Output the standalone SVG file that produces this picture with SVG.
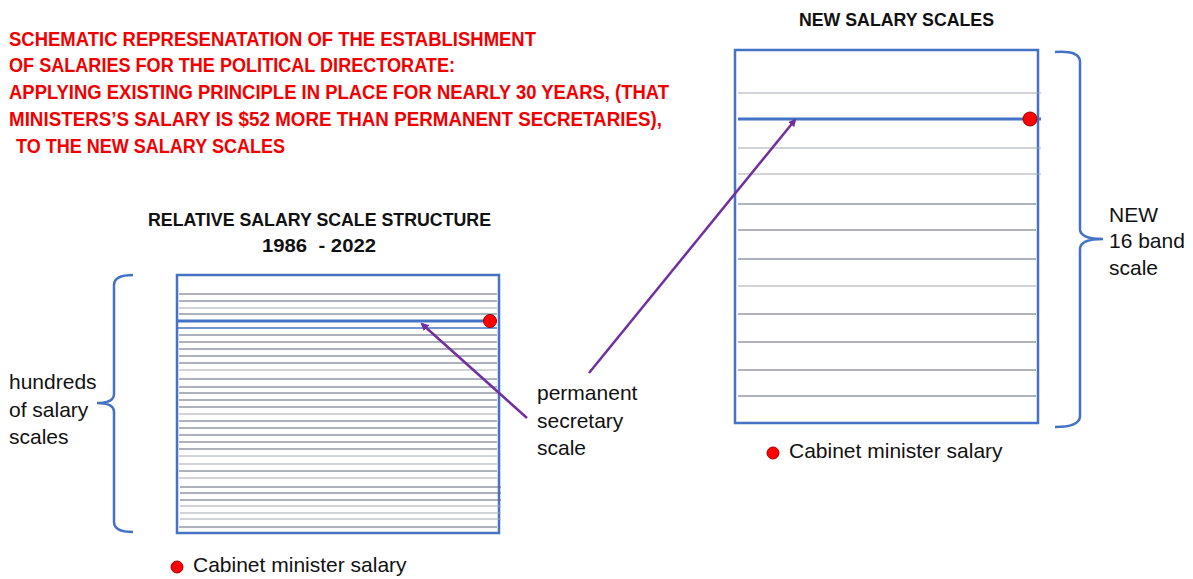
<svg xmlns="http://www.w3.org/2000/svg" width="1193" height="579" viewBox="0 0 1193 579">
<style>
.title{font-family:"Liberation Sans",Arial,sans-serif;font-weight:bold;font-size:21px;fill:#f00000}
.head{font-family:"Liberation Sans",Arial,sans-serif;font-weight:bold;font-size:19px;fill:#111}
.lbl{font-family:"Liberation Sans",Arial,sans-serif;font-size:21px;fill:#111}
.box{fill:#fff;stroke:#4472c4;stroke-width:2.5}
.band{stroke:#5c6579;stroke-width:1}
.bandl{stroke:#a3a8b2;stroke-width:1}
.ps{stroke:#4472c4;stroke-width:3}
.dot{fill:#ff0000;stroke:#a00000;stroke-width:1}
.brace{fill:none;stroke:#4472c4;stroke-width:2.5}
.arrow{stroke:#7030a0;stroke-width:2.5;fill:none;marker-end:url(#ah)}
</style>
<defs>
<marker id="ah" markerWidth="8" markerHeight="8" refX="6" refY="4" orient="auto" markerUnits="userSpaceOnUse" viewBox="0 0 8 8">
<path d="M0,0 L8,4 L0,8 z" fill="#7030a0"/>
</marker>
</defs>
<rect width="1193" height="579" fill="#fff"/>
<g id="title">
<text class="title" x="9" y="46" textLength="527" lengthAdjust="spacingAndGlyphs">SCHEMATIC REPRESENATATION OF THE ESTABLISHMENT</text>
<text class="title" x="9" y="72" textLength="446" lengthAdjust="spacingAndGlyphs">OF SALARIES FOR THE POLITICAL DIRECTORATE:</text>
<text class="title" x="9" y="99" textLength="660" lengthAdjust="spacingAndGlyphs">APPLYING EXISTING PRINCIPLE IN PLACE FOR NEARLY 30 YEARS, (THAT</text>
<text class="title" x="9" y="126" textLength="653" lengthAdjust="spacingAndGlyphs">MINISTERS’S SALARY IS $52 MORE THAN PERMANENT SECRETARIES),</text>
<text class="title" x="16" y="153" textLength="269" lengthAdjust="spacingAndGlyphs">TO THE NEW SALARY SCALES</text>
</g>
<g id="left-scale">
<text class="head" x="148" y="226" textLength="343" lengthAdjust="spacingAndGlyphs">RELATIVE SALARY SCALE STRUCTURE</text>
<text class="head" x="262" y="252" textLength="114" lengthAdjust="spacingAndGlyphs" xml:space="preserve">1986  - 2022</text>
<rect class="box" x="177" y="275" width="322" height="258"/>
<g>
<line class="band" x1="179" x2="497" y1="294" y2="294"/>
<line class="band" x1="179" x2="497" y1="301" y2="301"/>
<line class="bandl" x1="179" x2="497" y1="308" y2="308"/>
<line class="band" x1="179" x2="497" y1="314" y2="314"/>
<line class="ps" x1="178" x2="490" y1="321" y2="321"/>
<line class="ps" x1="178" x2="497" y1="328" y2="328" style="stroke-width:1.5"/>
<line class="band" x1="179" x2="497" y1="335" y2="335"/>
<line class="band" x1="179" x2="497" y1="342" y2="342"/>
<line class="band" x1="179" x2="497" y1="349" y2="349"/>
<line class="band" x1="179" x2="497" y1="356" y2="356"/>
<line class="band" x1="179" x2="497" y1="363" y2="363"/>
<line class="bandl" x1="179" x2="497" y1="370" y2="370"/>
<line class="band" x1="179" x2="497" y1="379" y2="379"/>
<line class="band" x1="179" x2="497" y1="387" y2="387"/>
<line class="band" x1="179" x2="497" y1="393" y2="393"/>
<line class="band" x1="179" x2="497" y1="400" y2="400"/>
<line class="band" x1="179" x2="497" y1="407" y2="407"/>
<line class="bandl" x1="179" x2="497" y1="414" y2="414"/>
<line class="band" x1="179" x2="497" y1="421" y2="421"/>
<line class="band" x1="179" x2="497" y1="428" y2="428"/>
<line class="band" x1="179" x2="497" y1="435" y2="435"/>
<line class="band" x1="179" x2="497" y1="442" y2="442"/>
<line class="band" x1="179" x2="497" y1="449" y2="449"/>
<line class="bandl" x1="179" x2="497" y1="456" y2="456"/>
<line class="bandl" x1="179" x2="497" y1="464" y2="464"/>
<line class="band" x1="179" x2="497" y1="471" y2="471"/>
<line class="bandl" x1="179" x2="497" y1="478" y2="478"/>
<line class="band" x1="180" x2="501" y1="487" y2="487"/>
<line class="band" x1="180" x2="501" y1="493" y2="493"/>
<line class="band" x1="180" x2="501" y1="500" y2="500"/>
<line class="bandl" x1="180" x2="501" y1="506" y2="506"/>
<line class="bandl" x1="180" x2="501" y1="513" y2="513"/>
<line class="bandl" x1="180" x2="501" y1="519" y2="519"/>
<line class="band" x1="179" x2="497" y1="527" y2="527"/>
</g>
<circle class="dot" cx="490" cy="321" r="6.5"/>
<path class="brace" d="M133,275 Q114,275 114,285 L114,394 Q114,403 97,403 Q114,403 114,412 L114,522 Q114,532 133,532"/>
<text class="lbl" x="9" y="389">hundreds</text>
<text class="lbl" x="9" y="417">of salary</text>
<text class="lbl" x="9" y="444">scales</text>
<circle class="dot" cx="177" cy="567" r="6"/>
<text class="lbl" x="193" y="572">Cabinet minister salary</text>
</g>
<g id="right-scale">
<text class="head" x="799" y="26" textLength="195" lengthAdjust="spacingAndGlyphs">NEW SALARY SCALES</text>
<rect class="box" x="735" y="50" width="303" height="373"/>
<line class="bandl" x1="738" x2="1041" y1="93" y2="93"/>
<line class="ps" x1="738" x2="1041" y1="119" y2="119"/>
<line class="bandl" x1="738" x2="1041" y1="148" y2="148"/>
<line class="bandl" x1="738" x2="1041" y1="174" y2="174"/>
<line class="band" x1="738" x2="1036" y1="204" y2="204"/>
<line class="band" x1="738" x2="1036" y1="230" y2="230"/>
<line class="band" x1="738" x2="1036" y1="259" y2="259"/>
<line class="bandl" x1="738" x2="1036" y1="286" y2="286"/>
<line class="band" x1="738" x2="1036" y1="314" y2="314"/>
<line class="band" x1="738" x2="1036" y1="342" y2="342"/>
<line class="band" x1="738" x2="1036" y1="370" y2="370"/>
<line class="band" x1="738" x2="1036" y1="396" y2="396"/>
<circle class="dot" cx="1030" cy="119" r="7"/>
<path class="brace" d="M1055,52 Q1080,50 1080,62 L1080,229 Q1080,239 1103,239 Q1080,239 1080,249 L1080,416 Q1080,427 1055,427"/>
<text class="lbl" x="1109" y="222">NEW</text>
<text class="lbl" x="1109" y="248">16 band</text>
<text class="lbl" x="1109" y="275">scale</text>
<circle class="dot" cx="773" cy="453" r="6"/>
<text class="lbl" x="789" y="458">Cabinet minister salary</text>
</g>
<g id="ps-label">
<text class="lbl" x="537" y="400">permanent</text>
<text class="lbl" x="537" y="428">secretary</text>
<text class="lbl" x="537" y="455">scale</text>
</g>
<g id="connectors">
<line class="arrow" x1="527" y1="418" x2="422" y2="324"/>
<line class="arrow" x1="589" y1="373" x2="795" y2="120"/>
</g>
</svg>
